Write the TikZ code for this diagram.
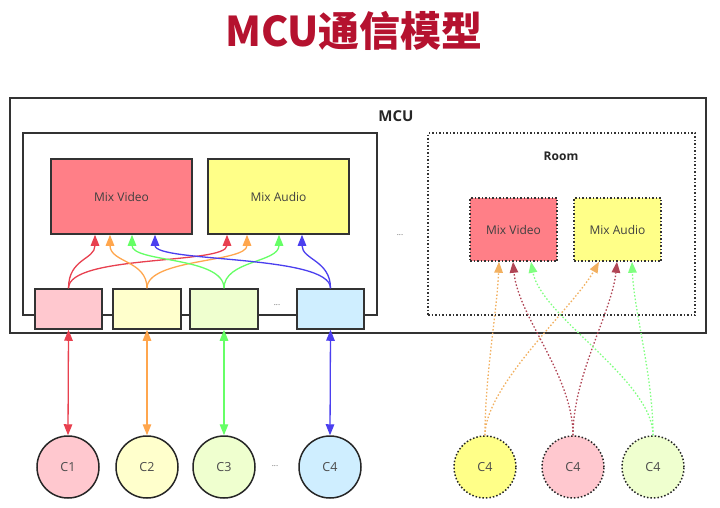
\documentclass[tikz,border=0pt]{standalone}
\usepackage{fontspec}
\setmainfont{Open Sans}
\newfontfamily\cjk{Noto Sans CJK SC}
\usetikzlibrary{arrows.meta}
\definecolor{titlered}{HTML}{B5122F}
\definecolor{mvfill}{HTML}{FF7F87}
\definecolor{mafill}{HTML}{FFFF88}
\definecolor{bpink}{HTML}{FFC8CF}
\definecolor{byellow}{HTML}{FFFFCC}
\definecolor{bgreen}{HTML}{EFFFCF}
\definecolor{bblue}{HTML}{CFEEFF}
\definecolor{cred}{HTML}{E8404F}
\definecolor{corange}{HTML}{FFA64D}
\definecolor{cgreen}{HTML}{66FF66}
\definecolor{cblue}{HTML}{4B3FEF}
\definecolor{dorange}{HTML}{F2B060}
\definecolor{dred}{HTML}{B04555}
\definecolor{dgreen}{HTML}{80FF80}
\definecolor{edge}{HTML}{333333}
\tikzset{
  box/.style={rectangle, draw=edge, line width=1.5pt, inner sep=0pt, text=black!75,
    font=\fontsize{12}{14}\selectfont},
  dbox/.style={box, dash pattern=on 1.5pt off 2pt},
  frame/.style={rectangle, draw=edge, line width=1.5pt, inner sep=0pt},
  dframe/.style={frame, dash pattern=on 1.5pt off 2pt},
  client/.style={circle, draw=black!85, line width=1.5pt, minimum size=62pt, inner sep=0pt,
    text=black!70, font=\fontsize{12.5}{14}\selectfont},
  dclient/.style={client, dash pattern=on 1.5pt off 2pt},
  conn/.style={line width=1.3pt, -{Triangle[length=11pt,width=8.5pt]}},
  dconn/.style={conn, dash pattern=on 1.5pt off 2pt},
  dbl/.style={line width=1.3pt, {Triangle[length=11pt,width=8.5pt]}-{Triangle[length=11pt,width=8.5pt]}},
  dots/.style={text=black!60, font=\fontsize{8}{9}\selectfont},
  lbl/.style={text=black!85, font=\bfseries\fontsize{12}{14}\selectfont}
}
\begin{document}
\begin{tikzpicture}[x=1pt,y=-1pt]
\useasboundingbox[fill=white] (0,0) rectangle (720,507);
\node[text=titlered, font=\cjk\bfseries\fontsize{41}{44}\selectfont] (title) at (354,31) {MCU通信模型};
% frames
\node[frame, minimum width=696pt, minimum height=235pt] (mcu) at (358,215.5) {};
\node[lbl, font=\bfseries\fontsize{15}{16}\selectfont] (mculbl) at (396,116) {MCU};
\node[frame, minimum width=354pt, minimum height=182pt] (inner) at (200,224) {};
\node[dframe, minimum width=267pt, minimum height=182pt] (room) at (561.5,224) {};
\node[lbl] (roomlbl) at (561,156) {Room};
\node[dots] (dots1) at (400,235) {...};
% mix boxes
\node[box, fill=mvfill, minimum width=141pt, minimum height=75pt] (mv) at (121.5,196.5) {Mix Video};
\node[box, fill=mafill, minimum width=141pt, minimum height=75pt] (ma) at (278.5,196.5) {Mix Audio};
\node[dbox, fill=mvfill, minimum width=87pt, minimum height=63pt] (rmv) at (513.5,229.5) {Mix Video};
\node[dbox, fill=mafill, minimum width=87pt, minimum height=63pt] (rma) at (617.5,229.5) {Mix Audio};
% port boxes
\node[box, fill=bpink, minimum width=67pt, minimum height=40pt] (b1) at (68.5,309) {};
\node[box, fill=byellow, minimum width=68pt, minimum height=40pt] (b2) at (147,309) {};
\node[box, fill=bgreen, minimum width=68pt, minimum height=40pt] (b3) at (224,309) {};
\node[box, fill=bblue, minimum width=67pt, minimum height=40pt] (b4) at (330.5,309) {};
\node[dots] (dots2) at (277,305) {...};
% clients
\node[client, fill=bpink] (c1) at (68,467) {C1};
\node[client, fill=byellow] (c2) at (147,467) {C2};
\node[client, fill=bgreen] (c3) at (224,467) {C3};
\node[client, fill=bblue] (c4) at (330,467) {C4};
\node[dots] (dots3) at (275,466) {...};
\node[dclient, fill=mafill] (r1) at (485,467) {C4};
\node[dclient, fill=bpink] (r2) at (573,467) {C4};
\node[dclient, fill=bgreen] (r3) at (653,467) {C4};
% vertical links
\draw[dbl, cred] (b1.south) -- (c1.north);
\draw[dbl, corange] (b2.south) -- (c2.north);
\draw[dbl, cgreen] (b3.south) -- (c3.north);
\draw[dbl, cblue] (b4.south) -- (c4.north);
% mixing curves (left)
\draw[conn, cred] (b1.north) .. controls +(0,-30) and +(0,25) .. ([xshift=-26.5]mv.south);
\draw[conn, cred] (b1.north) .. controls +(0,-34) and +(0,30) .. ([xshift=-51.5]ma.south);
\draw[conn, corange] (b2.north) .. controls +(0,-28) and +(0,28) .. ([xshift=-11.5]mv.south);
\draw[conn, corange] (b2.north) .. controls +(0,-30) and +(0,28) .. ([xshift=-31.5]ma.south);
\draw[conn, cgreen] (b3.north) .. controls +(0,-32) and +(0,28) .. ([xshift=10.5]mv.south);
\draw[conn, cgreen] (b3.north) .. controls +(0,-28) and +(0,28) .. ([xshift=0.5]ma.south);
\draw[conn, cblue] (b4.north) .. controls +(0,-34) and +(0,28) .. ([xshift=33.5]mv.south);
\draw[conn, cblue] (b4.north) .. controls +(0,-28) and +(0,25) .. ([xshift=23.5]ma.south);
% room curves (right)
\draw[dconn, dorange] (r1.north) .. controls +(0,-60) and +(-2,50) .. ([xshift=-14.5]rmv.south);
\draw[dconn, dorange] (r1.north) .. controls +(0,-50) and +(-25,45) .. ([xshift=-18.5]rma.south);
\draw[dconn, dred] (r2.north) .. controls +(0,-60) and +(5,55) .. ([xshift=-0.5]rmv.south);
\draw[dconn, dred] (r2.north) .. controls +(0,-60) and +(-5,50) .. ([xshift=-0.5]rma.south);
\draw[dconn, dgreen] (r3.north) .. controls +(0,-55) and +(10,55) .. ([xshift=17.5]rmv.south);
\draw[dconn, dgreen] (r3.north) .. controls +(0,-60) and +(2,50) .. ([xshift=14.5]rma.south);
\end{tikzpicture}
\end{document}
